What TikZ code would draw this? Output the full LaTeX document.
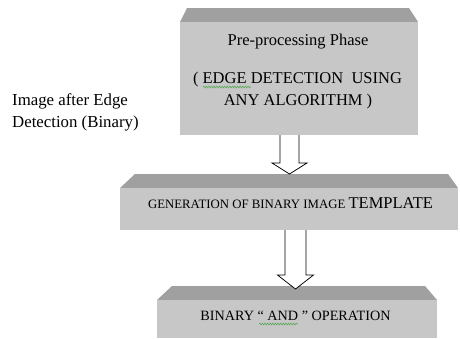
\documentclass[tikz,border=0pt]{standalone}
\usepackage{fontspec}
\setmainfont{Liberation Serif}
\usetikzlibrary{calc,decorations.pathmorphing}
\definecolor{boxface}{RGB}{199,199,199}
\definecolor{boxtop}{RGB}{160,160,160}
\definecolor{spellgreen}{RGB}{90,170,90}
\tikzset{
  face/.style={fill=boxface, draw=none},
  bevel/.style={fill=boxtop, draw=none},
  blockarrow/.style={draw=black, fill=white, line width=0.75pt, line join=miter},
  label/.style={anchor=base, inner sep=0pt, text=black},
  squiggle/.style={draw=spellgreen, line width=0.6pt,
    decorate, decoration={snake, amplitude=0.9pt, segment length=2.6pt}}
}
\begin{document}
\begin{tikzpicture}[x=1pt,y=-1pt]
\useasboundingbox (0,0) rectangle (460,338);
\fill[white] (0,0) rectangle (460,338);

% first block: pre-processing
\fill[bevel] (180,22) -- (187,8) -- (409,8) -- (418,22) -- cycle;
\fill[face] (180,22) rectangle (418,135);
\node[label, font=\fontsize{16.5}{18}\selectfont] (pre1) at (298,45) {Pre-processing Phase};
\node[label, font=\fontsize{16.5}{18}\selectfont] (pre2) at (297.5,83) {( EDGE DETECTION\ \ USING};
\node[label, font=\fontsize{16.5}{18}\selectfont] (pre3) at (298,105) {ANY ALGORITHM )};
\draw[squiggle] (203,87) -- (251,87);

% side note
\node[anchor=base west, inner sep=0pt, align=left, font=\fontsize{16.8}{18}\selectfont] (note1) at (12,105) {Image after Edge};
\node[anchor=base west, inner sep=0pt, align=left, font=\fontsize{16.8}{18}\selectfont] (note2) at (12,127) {Detection (Binary)};

% second block: template
\fill[bevel] (120,188) -- (135,174) -- (448,174) -- (458,188) -- cycle;
\fill[face] (120,188) rectangle (458,230);
\node[label] (gen) at (290.5,208) {\fontsize{12.8}{14}\selectfont GENERATION OF BINARY IMAGE \fontsize{16.5}{18}\selectfont TEMPLATE};

% third block: AND operation
\fill[bevel] (157,300) -- (172,286) -- (425,286) -- (437,300) -- cycle;
\fill[face] (157,300) rectangle (437,338);
\node[label, font=\fontsize{14.2}{16}\selectfont] (andop) at (295.5,320) {BINARY `` AND '' OPERATION};
\draw[squiggle] (259,324) -- (298,324);

% hollow block arrows between the blocks
\coordinate (a1s) at (289.5,135);
\coordinate (a1t) at (289.5,174);
\draw[blockarrow] ($(a1s)+(-9.5,0)$) -- ($(a1s)+(-9.5,28)$) -- ($(a1s)+(-17.5,28)$)
  -- (a1t) -- ($(a1s)+(17.5,28)$) -- ($(a1s)+(9.5,28)$) -- ($(a1s)+(9.5,0)$);

\coordinate (a2s) at (295.5,230);
\coordinate (a2t) at (295.5,289);
\draw[blockarrow] ($(a2s)+(-10.5,0)$) -- ($(a2s)+(-10.5,45)$) -- ($(a2s)+(-18,45)$)
  -- (a2t) -- ($(a2s)+(18,45)$) -- ($(a2s)+(10.5,45)$) -- ($(a2s)+(10.5,0)$);
\end{tikzpicture}
\end{document}
